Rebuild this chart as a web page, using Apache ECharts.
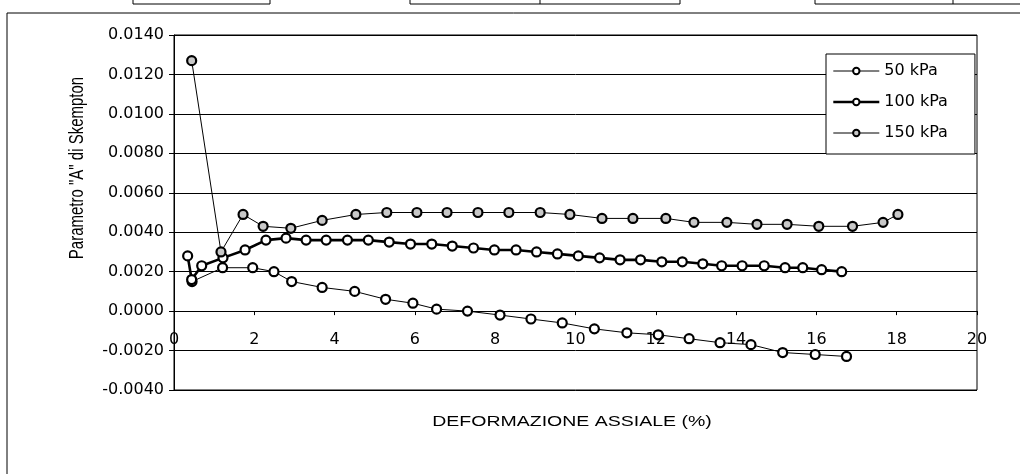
<!DOCTYPE html>
<html>
<head>
<meta charset="utf-8">
<script src="https://cdn.jsdelivr.net/npm/echarts@6/dist/echarts.min.js"></script>
<style>
  html, body { margin: 0; padding: 0; background: #fff; }
  #chart { width: 1020px; height: 474px; }
</style>
</head>
<body>
<div id="chart"></div>
<script>
// Axial strain (%) and Skempton "A" parameter for each confining pressure
const seriesNames = ['50 kPa', '100 kPa', '150 kPa'];

const strain50 = [0.45, 1.21, 1.96, 2.49, 2.93, 3.69, 4.50, 5.27, 5.95, 6.54, 7.31, 8.12, 8.89, 9.67, 10.47, 11.28, 12.06, 12.83, 13.60, 14.37, 15.16, 15.97, 16.75];
const paramA50 = [0.0015, 0.0022, 0.0022, 0.0020, 0.0015, 0.0012, 0.0010, 0.0006, 0.0004, 0.0001, -0.0000, -0.0002, -0.0004, -0.0006, -0.0009, -0.0011, -0.0012, -0.0014, -0.0016, -0.0017, -0.0021, -0.0022, -0.0023];

const strain100 = [0.34, 0.44, 0.69, 1.22, 1.77, 2.29, 2.79, 3.29, 3.79, 4.32, 4.84, 5.36, 5.89, 6.42, 6.93, 7.46, 7.98, 8.52, 9.03, 9.55, 10.07, 10.60, 11.11, 11.62, 12.15, 12.66, 13.17, 13.64, 14.15, 14.70, 15.22, 15.66, 16.13, 16.63];
const paramA100 = [0.0028, 0.0016, 0.0023, 0.0027, 0.0031, 0.0036, 0.0037, 0.0036, 0.0036, 0.0036, 0.0036, 0.0035, 0.0034, 0.0034, 0.0033, 0.0032, 0.0031, 0.0031, 0.0030, 0.0029, 0.0028, 0.0027, 0.0026, 0.0026, 0.0025, 0.0025, 0.0024, 0.0023, 0.0023, 0.0023, 0.0022, 0.0022, 0.0021, 0.0020];

const strain150 = [0.44, 1.17, 1.72, 2.22, 2.91, 3.69, 4.53, 5.30, 6.05, 6.80, 7.57, 8.34, 9.12, 9.86, 10.66, 11.43, 12.25, 12.95, 13.77, 14.52, 15.27, 16.06, 16.90, 17.66, 18.03];
const paramA150 = [0.0127, 0.0030, 0.0049, 0.0043, 0.0042, 0.0046, 0.0049, 0.0050, 0.0050, 0.0050, 0.0050, 0.0050, 0.0050, 0.0049, 0.0047, 0.0047, 0.0047, 0.0045, 0.0045, 0.0044, 0.0044, 0.0043, 0.0043, 0.0045, 0.0049];

const yMin = -0.004;
const yMax = 0.014;
const xTitle = 'DEFORMAZIONE ASSIALE (%)';
const yTitle = 'Parametro "A" di Skempton';

// line width and marker fill of each series
const lineWidths = [1, 2.6, 1];
const markerFills = ['#fff', '#fff', '#c8c8c8'];

function pairs(xs, ys) {
  return xs.map((x, i) => [x, ys[i]]);
}

function lineSeries(idx, xs, ys) {
  return {
    name: seriesNames[idx],
    type: 'line',
    data: pairs(xs, ys),
    symbol: 'circle',
    symbolSize: 9,
    showSymbol: true,
    lineStyle: { color: '#000', width: lineWidths[idx] },
    itemStyle: { color: markerFills[idx], borderColor: '#000', borderWidth: 2.2 },
    emphasis: { disabled: true },
    animation: false
  };
}

// plot box in pixels
const gridTop = 35, gridBottom = 84, chartH = 474;
const plotH = chartH - gridTop - gridBottom;
// the strain axis runs along the zero line of the A-parameter axis
const zeroOffset = -plotH * (0 - yMin) / (yMax - yMin);

const chart = echarts.init(document.getElementById('chart'), null, { renderer: 'canvas' });

const tickFont = { fontFamily: 'DejaVu Sans', fontSize: 16, color: '#000' };

chart.setOption({
  backgroundColor: '#fff',
  animation: false,
  grid: {
    left: 174, top: gridTop, right: 43, bottom: gridBottom,
    show: true, borderColor: '#000', borderWidth: 1
  },
  xAxis: {
    type: 'value',
    position: 'bottom',
    offset: zeroOffset,
    min: 0, max: 20, interval: 2,
    axisLine: { onZero: false, lineStyle: { color: '#000', width: 1 } },
    axisTick: { show: true, inside: false, length: 4, lineStyle: { color: '#000' } },
    axisLabel: Object.assign({ margin: 21 }, tickFont),
    splitLine: { show: false }
  },
  yAxis: {
    type: 'value',
    min: yMin, max: yMax, interval: 0.002,
    axisLine: { show: true, onZero: false, lineStyle: { color: '#000', width: 1 } },
    axisTick: { show: true, inside: false, length: 5, lineStyle: { color: '#000' } },
    axisLabel: Object.assign({
      margin: 10,
      formatter: v => v.toFixed(4)
    }, tickFont),
    splitLine: { show: true, lineStyle: { color: '#000', width: 1 } }
  },
  legend: {
    orient: 'vertical',
    left: 826, top: 54,
    padding: [8, 27, 12, 6],
    itemGap: 13,
    itemWidth: 46,
    itemHeight: 8,
    backgroundColor: '#fff',
    borderColor: '#000',
    borderWidth: 1,
    textStyle: { fontFamily: 'DejaVu Sans', fontSize: 16, color: '#000', lineHeight: 18 },
    data: seriesNames.map((n, i) => ({
      name: n,
      lineStyle: { color: '#000', width: lineWidths[i] },
      itemStyle: { color: markerFills[i], borderColor: '#000', borderWidth: 2 }
    }))
  },
  series: [
    lineSeries(0, strain50, paramA50),
    lineSeries(1, strain100, paramA100),
    lineSeries(2, strain150, paramA150)
  ],
  graphic: [
    // outer frame of the figure
    { type: 'polyline', silent: true, shape: { points: [[7, 474], [7, 13], [1020, 13]] },
      style: { stroke: '#000', lineWidth: 1, fill: null } },
    // table cells cut at the top edge
    { type: 'polyline', silent: true, shape: { points: [[133, 0], [133, 4], [270, 4], [270, 0]] },
      style: { stroke: '#000', lineWidth: 1, fill: null } },
    { type: 'polyline', silent: true, shape: { points: [[410, 0], [410, 4], [680, 4], [680, 0]] },
      style: { stroke: '#000', lineWidth: 1, fill: null } },
    { type: 'line', silent: true, shape: { x1: 540, y1: 0, x2: 540, y2: 4 },
      style: { stroke: '#000', lineWidth: 1 } },
    { type: 'polyline', silent: true, shape: { points: [[815, 0], [815, 4], [1020, 4]] },
      style: { stroke: '#000', lineWidth: 1, fill: null } },
    { type: 'line', silent: true, shape: { x1: 953, y1: 0, x2: 953, y2: 4 },
      style: { stroke: '#000', lineWidth: 1 } },
    // axis titles
    { type: 'text', silent: true, x: 572, y: 422, scaleX: 1.3,
      style: { text: xTitle, fontFamily: 'Liberation Sans', fontSize: 15, fill: '#000',
               textAlign: 'center', textVerticalAlign: 'middle' } },
    { type: 'text', silent: true, x: 78, y: 168, rotation: Math.PI / 2, scaleY: 1.3,
      style: { text: yTitle, fontFamily: 'Liberation Sans', fontSize: 15, fill: '#000',
               textAlign: 'center', textVerticalAlign: 'middle' } }
  ]
});
</script>
</body>
</html>
